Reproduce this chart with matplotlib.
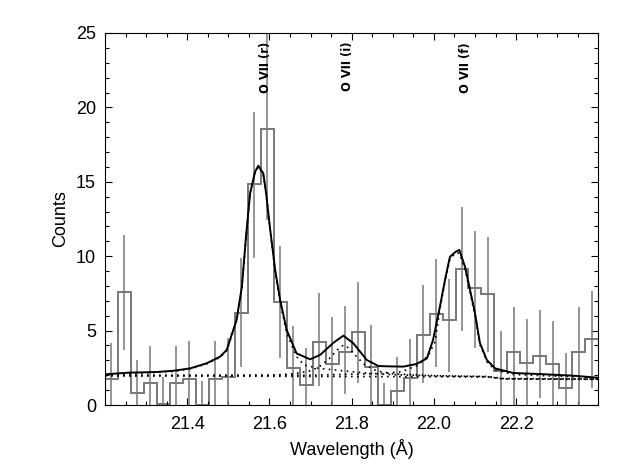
import numpy as np
import matplotlib
matplotlib.use('Agg')
import matplotlib.pyplot as plt
from matplotlib.ticker import MultipleLocator

plt.rcParams['font.family'] = ['Liberation Sans', 'DejaVu Sans']

# binned spectrum, 38 bins between 21.2 and 22.4 A
wl_min, wl_max = 21.2, 22.4
counts = [1.72, 7.57, 0.78, 1.5, 0.1, 1.5, 1.72, 0.0, 1.72, 1.88,
          6.18, 14.83, 18.53, 6.92, 2.5, 1.37, 4.26, 2.73, 3.58, 4.9,
          2.55, 0.0, 0.95, 1.8, 4.72, 6.13, 5.73, 9.12, 7.84, 7.46,
          2.26, 3.54, 2.85, 3.32, 2.78, 1.12, 3.54, 4.41]
err_lo = [0.0, 3.7, 0.0, 0.0, 0.0, 0.0, 0.0, 0.0, 0.0, 0.0,
          2.58, 9.86, 12.4, 3.15, 0.0, 0.0, 1.3, 0.0, 0.75, 1.5,
          0.0, 0.0, 0.0, 0.0, 1.46, 2.58, 2.24, 5.0, 3.86, 3.58,
          0.0, 0.0, 0.0, 0.45, 0.0, 0.0, 0.0, 1.12]
err_hi = [4.2, 11.42, 3.02, 3.97, 1.9, 3.95, 4.3, 1.6, 4.3, 4.52,
          9.86, 19.71, 24.97, 10.7, 5.3, 3.8, 7.5, 5.9, 6.65, 8.29,
          5.38, 1.5, 3.25, 4.43, 8.06, 9.78, 8.5, 13.28, 11.72, 11.31,
          5.0, 6.6, 5.76, 6.38, 5.65, 3.47, 6.6, 7.66]

# total model (solid)
model_wl = [21.200, 21.261, 21.285, 21.326, 21.366, 21.407, 21.447, 21.480,
            21.496, 21.504, 21.512, 21.520, 21.533, 21.543, 21.553, 21.565,
            21.573, 21.585, 21.592, 21.601, 21.614, 21.626, 21.642, 21.666,
            21.699, 21.723, 21.756, 21.780, 21.804, 21.837, 21.865, 21.885,
            21.926, 21.958, 21.983, 21.998, 22.005, 22.015, 22.027, 22.039,
            22.052, 22.062, 22.076, 22.088, 22.100, 22.112, 22.129, 22.149,
            22.193, 22.258, 22.339, 22.400]
model_tot = [2.06, 2.18, 2.19, 2.22, 2.30, 2.46, 2.80, 3.25,
             3.70, 4.37, 5.04, 5.71, 7.95, 11.31, 14.23, 15.68,
             16.08, 15.57, 14.23, 11.98, 9.07, 7.06, 5.04, 3.47,
             3.07, 3.36, 4.19, 4.66, 4.15, 3.02, 2.62, 2.60,
             2.58, 2.76, 3.13, 4.37, 5.30, 6.65, 8.40, 9.95,
             10.28, 10.42, 9.27, 7.73, 6.18, 4.17, 3.02, 2.46,
             2.15, 2.08, 1.97, 1.83]

# continuum (dotted)
cont_wl = [21.2, 21.7, 22.0, 22.13, 22.17, 22.4]
cont = [1.97, 1.92, 1.90, 1.88, 1.75, 1.72]

# O VII r component + continuum
r_wl = [21.200, 21.285, 21.366, 21.407, 21.447, 21.480, 21.496, 21.504,
        21.512, 21.520, 21.533, 21.543, 21.553, 21.565, 21.573, 21.585,
        21.592, 21.601, 21.614, 21.626, 21.642, 21.666, 21.684, 21.719,
        21.760, 21.800, 21.841, 21.882, 21.922, 22.000, 22.130, 22.170, 22.400]
r_mod = [2.02, 2.13, 2.26, 2.42, 2.76, 3.20, 3.65, 4.30,
         4.97, 5.65, 7.90, 11.25, 14.20, 15.62, 16.00, 15.50,
         14.15, 11.90, 8.95, 6.90, 4.80, 3.25, 2.69, 2.47,
         2.35, 2.24, 2.13, 2.06, 2.02, 1.97, 1.92, 1.78, 1.74]

# O VII i component + continuum
i_wl = [21.2, 21.6, 21.66, 21.70, 21.72, 21.745, 21.765, 21.78, 21.795,
        21.81, 21.83, 21.86, 21.90, 22.0, 22.13, 22.17, 22.4]
i_mod = [1.98, 2.0, 2.1, 2.3, 2.55, 3.1, 3.7, 4.03, 3.8,
         3.3, 2.75, 2.3, 2.1, 1.97, 1.9, 1.76, 1.73]

# O VII f component + continuum
f_wl = [21.2, 21.7, 21.882, 21.922, 21.963, 21.987, 22.003, 22.015, 22.027,
        22.039, 22.052, 22.062, 22.076, 22.088, 22.100, 22.112, 22.129,
        22.149, 22.193, 22.258, 22.339, 22.4]
f_mod = [1.98, 2.0, 2.13, 2.24, 2.69, 3.36, 4.25, 6.5, 8.3,
         9.8, 10.2, 10.2, 9.1, 7.6, 6.0, 4.05, 2.9,
         2.35, 2.05, 1.98, 1.9, 1.78]

line_names = ['O VII (r)', 'O VII (i)', 'O VII (f)']
line_pos = [21.59, 21.79, 22.077]

edges = np.linspace(wl_min, wl_max, len(counts) + 1)
centers = 0.5 * (edges[:-1] + edges[1:])

fig = plt.figure(figsize=(6.29, 4.72), dpi=100)
ax = fig.add_axes([105 / 629, 67 / 472, 493.3 / 629, 372 / 472])

gray = '0.47'
ax.stairs(counts, edges, baseline=None, color=gray, lw=1.4)
ax.vlines(centers, err_lo, err_hi, color=gray, lw=1.1)

dot = (0, (1, 2.6))
ax.plot(cont_wl, cont, color='k', ls=dot, lw=1.2)
ax.plot(r_wl, r_mod, color='k', ls=dot, lw=1.2)
ax.plot(i_wl, i_mod, color='k', ls=dot, lw=1.2)
ax.plot(f_wl, f_mod, color='k', ls=dot, lw=1.2)
ax.plot(model_wl, model_tot, color='k', lw=1.4)

for name, pos in zip(line_names, line_pos):
    ax.text(pos, 24.4, name, rotation=90, ha='center', va='top',
            fontsize=8.3, fontweight='bold', family=['DejaVu Sans'])

ax.set_xlim(wl_min, wl_max)
ax.set_ylim(0, 25)
ax.set_xticks([21.4, 21.6, 21.8, 22.0, 22.2])
ax.set_xticklabels(['21.4', '21.6', '21.8', '22.0', '22.2'])
ax.xaxis.set_minor_locator(MultipleLocator(0.05))
ax.yaxis.set_major_locator(MultipleLocator(5))
ax.yaxis.set_minor_locator(MultipleLocator(1))
ax.tick_params(which='both', direction='in', top=True, right=True,
               width=0.8, labelsize=13)
ax.tick_params(which='major', length=5)
ax.tick_params(which='minor', length=2.6)
ax.tick_params(axis='x', pad=8)
ax.tick_params(axis='y', pad=6.5)
for s in ax.spines.values():
    s.set_linewidth(0.8)

ax.set_xlabel('Wavelength (Å)', fontsize=13, labelpad=4)
ax.set_ylabel('Counts', fontsize=13, labelpad=5)

fig.savefig('out.png', dpi=100)
